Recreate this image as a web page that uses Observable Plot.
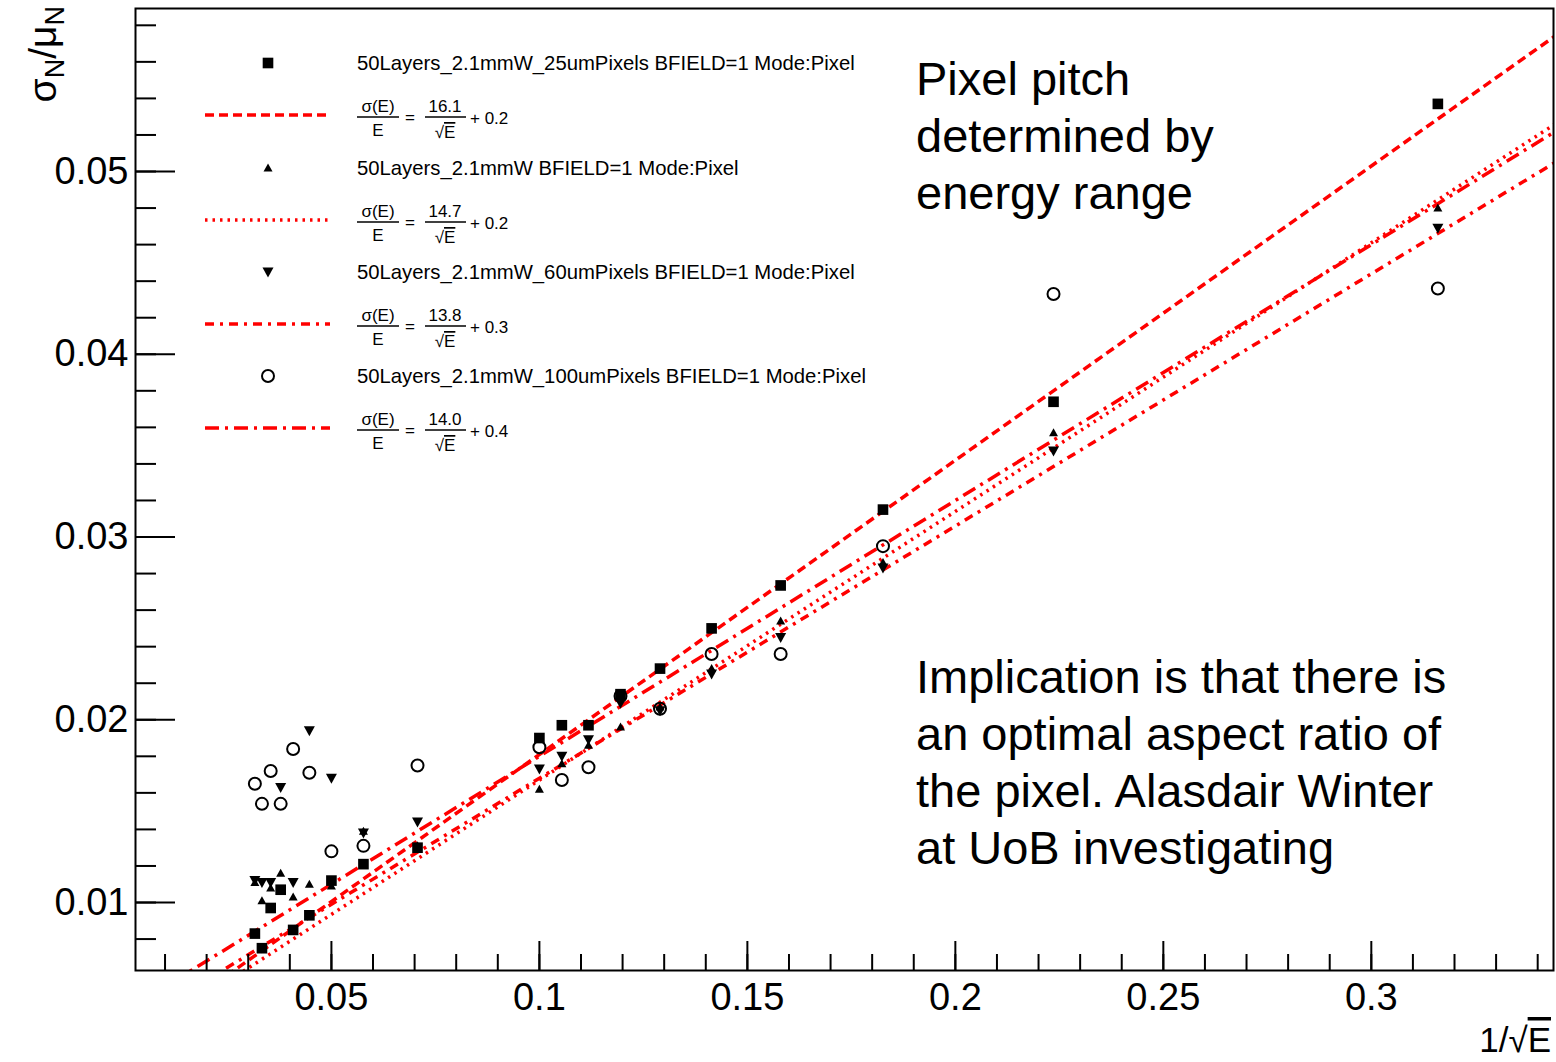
<!DOCTYPE html>
<html><head><meta charset="utf-8">
<script src="https://cdn.jsdelivr.net/npm/d3@7"></script>
<script src="https://cdn.jsdelivr.net/npm/@observablehq/plot@0.6"></script>
<style>
body{margin:0;background:#fff}
#chart{position:relative;width:1556px;height:1062px}
</style>
</head><body><div id="chart"></div>
<script>
// x = 1/sqrt(E) for E = 10,20,...,100,200,...,1000 GeV
const invSqrtE = [0.316, 0.2236, 0.1826, 0.158, 0.1414, 0.129, 0.1195, 0.1118, 0.1054, 0.100,
                  0.0707, 0.0577, 0.050, 0.0447, 0.0408, 0.0378, 0.0354, 0.0333, 0.0316];
const pix25  = [0.0537, 0.0374, 0.0315, 0.02735, 0.0250, 0.0228, 0.0214, 0.0197, 0.0197, 0.0190,
                0.0130, 0.0121, 0.0112, 0.0093, 0.0085, 0.0107, 0.0097, 0.0075, 0.0083];
const pixStd = [0.0480, 0.0357, 0.0286, 0.0254, 0.0228, 0.0207, 0.0196, 0.0186, 0.0176, 0.0162,
                0.0131, 0.0139, 0.0109, 0.0110, 0.0103, 0.0116, 0.0108, 0.0101, 0.0111];
const pix60  = [0.0469, 0.0347, 0.0283, 0.0245, 0.0225, 0.0205, 0.0209, 0.0189, 0.0180, 0.0173,
                0.0144, 0.0138, 0.0168, 0.0194, 0.0111, 0.0163, 0.0111, 0.0111, 0.0112];
const pix100 = [0.0436, 0.0433, 0.0295, 0.0236, 0.0236, 0.0206, 0.0213, 0.0174, 0.0167, 0.0185,
                0.0175, 0.0131, 0.0128, 0.0171, 0.0184, 0.0154, 0.0172, 0.0154, 0.0165];
// fit: sigma/E = a/sqrt(E) + b  (in %)
const seriesNames = ["50Layers_2.1mmW_25umPixels BFIELD=1 Mode:Pixel",
                     "50Layers_2.1mmW BFIELD=1 Mode:Pixel",
                     "50Layers_2.1mmW_60umPixels BFIELD=1 Mode:Pixel",
                     "50Layers_2.1mmW_100umPixels BFIELD=1 Mode:Pixel"];
const fitA = [16.1, 14.7, 13.8, 14.0];
const fitB = [0.2, 0.2, 0.3, 0.4];
const fitRange = [0.0, 0.35];
const xTickLabels = [0.05, 0.1, 0.15, 0.2, 0.25, 0.3];
const yTickLabels = [0.01, 0.02, 0.03, 0.04, 0.05];

const W = 1556, H = 1062, mL = 135, mR = 3, mT = 8, mB = 92;
const pw = W - mL - mR, ph = H - mT - mB;
const dashes = ["9,5", "2.5,5", "9,6,3,6", "14,6,3,6"];

const triUp = {draw(ctx){ ctx.moveTo(0,-4.5); ctx.lineTo(4.5,3.5); ctx.lineTo(-4.5,3.5); ctx.closePath(); }};
const triDown = {draw(ctx){ ctx.moveTo(-5.5,-4.5); ctx.lineTo(5.5,-4.5); ctx.lineTo(0,5.5); ctx.closePath(); }};

const mk = ys => invSqrtE.map((x, i) => ({x, y: ys[i]}));
const fits = fitA.map((a, i) => ({x1: fitRange[0], x2: fitRange[1],
  y1: a/100*fitRange[0] + fitB[i]/100, y2: a/100*fitRange[1] + fitB[i]/100}));

const xMinor = d3.range(1, 35).map(i => i/100);
const yMinor = d3.range(4, 30).map(i => i*0.002);
const fmt = d => String(+d.toFixed(3));

const plot = Plot.plot({
  width: W, height: H, marginLeft: mL, marginRight: mR, marginTop: mT, marginBottom: mB,
  x: {domain: [0.0029, 0.3438]},
  y: {domain: [0.00628, 0.05892]},
  style: {fontFamily: "'Liberation Sans', Arial, sans-serif", background: "white", color: "black"},
  marks: [
    ...fits.map((f, i) => Plot.link([f], {x1: "x1", y1: "y1", x2: "x2", y2: "y2",
        stroke: "#ff0000", strokeWidth: 3.5, strokeDasharray: dashes[i], clip: true})),
    Plot.dot(mk(pix100), {x: "x", y: "y", r: 6, symbol: "circle", fill: "none", stroke: "black", strokeWidth: 2}),
    Plot.dot(mk(pix60), {x: "x", y: "y", r: 5, symbol: triDown, fill: "black", stroke: "none"}),
    Plot.dot(mk(pixStd), {x: "x", y: "y", r: 4, symbol: triUp, fill: "black", stroke: "none"}),
    Plot.dot(mk(pix25), {x: "x", y: "y", r: 6, symbol: "square", fill: "black", stroke: "none"}),
    Plot.ruleX(xMinor, {insetTop: ph - 16, stroke: "black", strokeWidth: 2}),
    Plot.ruleX(xTickLabels, {insetTop: ph - 29, stroke: "black", strokeWidth: 2}),
    Plot.ruleY(yMinor, {insetRight: pw - 21, stroke: "black", strokeWidth: 2}),
    Plot.ruleY(yTickLabels, {insetRight: pw - 40, stroke: "black", strokeWidth: 2}),
    Plot.axisX({ticks: xTickLabels, tickSize: 0, tickPadding: 13, fontSize: 38, tickFormat: fmt, label: null}),
    Plot.axisY({ticks: yTickLabels, tickSize: 0, tickPadding: 7, fontSize: 38, tickFormat: fmt, label: null}),
    Plot.frame({stroke: "black", strokeWidth: 2})
  ]
});
document.getElementById("chart").appendChild(plot);

const svg = d3.select(plot);
const FF = "'Liberation Sans', Arial, sans-serif";

// y-axis title
const yt = svg.append("text").attr("transform", "translate(56,6) rotate(-90)")
  .attr("text-anchor", "end").attr("font-family", FF).attr("font-size", 39).attr("fill", "black");
yt.append("tspan").text("σ");
yt.append("tspan").attr("font-size", 27).attr("dy", 8).text("N");
yt.append("tspan").attr("dy", -8).text("/μ");
yt.append("tspan").attr("font-size", 27).attr("dy", 8).text("N");

// x-axis title
const xt = svg.append("text").attr("x", 1551).attr("y", 1052).attr("text-anchor", "end")
  .attr("font-family", FF).attr("font-size", 35).attr("fill", "black");
xt.append("tspan").text("1/√");
xt.append("tspan").style("text-decoration", "overline").text("E");

// legend
const lg = svg.append("g").attr("font-family", FF).attr("fill", "black").attr("text-anchor", "start");
const markerY = [63, 168, 272, 376];
const symbols = [d3.symbol(d3.symbolSquare, 113)(), d3.symbol(triUp)(), d3.symbol(triDown)(), d3.symbol(d3.symbolCircle, 113)()];
seriesNames.forEach((name, i) => {
  const y = markerY[i];
  const p = lg.append("path").attr("d", symbols[i]).attr("transform", `translate(268,${y})`);
  if (i === 3) p.attr("fill", "none").attr("stroke", "black").attr("stroke-width", 2);
  else p.attr("fill", "black");
  lg.append("text").attr("x", 357).attr("y", y + 7).attr("font-size", 20.3).text(name);
  const fy = y + 52;
  lg.append("line").attr("x1", 205).attr("x2", 330).attr("y1", fy).attr("y2", fy)
    .attr("stroke", "#ff0000").attr("stroke-width", 3.5).attr("stroke-dasharray", dashes[i]);
  // formula: sigma(E)/E = a/sqrt(E) + b
  const fb = fy + 2;
  lg.append("text").attr("x", 378).attr("y", fb - 5).attr("text-anchor", "middle").attr("font-size", 17).text("σ(E)");
  lg.append("line").attr("x1", 357).attr("x2", 399).attr("y1", fb).attr("y2", fb).attr("stroke", "black").attr("stroke-width", 1.5);
  lg.append("text").attr("x", 378).attr("y", fb + 19).attr("text-anchor", "middle").attr("font-size", 17).text("E");
  lg.append("text").attr("x", 410).attr("y", fb + 6).attr("text-anchor", "middle").attr("font-size", 17).text("=");
  lg.append("text").attr("x", 445).attr("y", fb - 5).attr("text-anchor", "middle").attr("font-size", 17).text(fitA[i].toFixed(1));
  lg.append("line").attr("x1", 425).attr("x2", 466).attr("y1", fb).attr("y2", fb).attr("stroke", "black").attr("stroke-width", 1.5);
  const sq = lg.append("text").attr("x", 445).attr("y", fb + 21).attr("text-anchor", "middle").attr("font-size", 17);
  sq.append("tspan").text("√");
  sq.append("tspan").style("text-decoration", "overline").text("E");
  lg.append("text").attr("x", 470).attr("y", fb + 7).attr("font-size", 17).text("+ " + fitB[i].toFixed(1));
});

// annotations
const notes1 = ["Pixel pitch", "determined by", "energy range"];
const notes2 = ["Implication is that there is", "an optimal aspect ratio of", "the pixel. Alasdair Winter", "at UoB investigating"];
const an = svg.append("g").attr("font-family", FF).attr("font-size", 47).attr("fill", "black").attr("text-anchor", "start");
notes1.forEach((t, i) => an.append("text").attr("x", 916).attr("y", 95 + i * 57).text(t));
notes2.forEach((t, i) => an.append("text").attr("x", 916).attr("y", 693 + i * 57).text(t));
</script>
</body></html>
